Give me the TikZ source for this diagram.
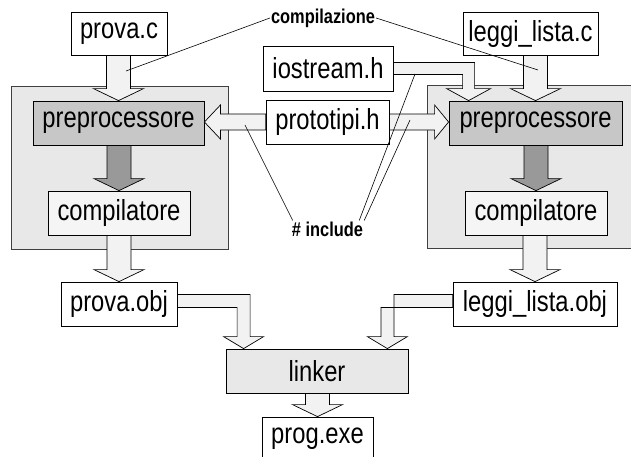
\documentclass[tikz,border=0pt]{standalone}
\usepackage{fontspec}
\setmainfont{Liberation Sans}[FakeStretch=0.82]
\usetikzlibrary{calc}
\definecolor{contgray}{gray}{0.91}
\definecolor{pregray}{gray}{0.78}
\definecolor{compgray}{gray}{0.96}
\definecolor{arrgray}{gray}{0.95}
\definecolor{darkarr}{gray}{0.6}

% fat arrow pointing down, from one box to the next one
\newcommand{\fatdown}[3][arrgray]{%
  \filldraw[fatarr,fill=#1] let \p1=(#2.south), \p2=(#3.north) in
    (\x2-12pt,\y1) -- (\x2-12pt,\y2+12pt) -- (\x2-25pt,\y2+12pt) -- (\x2,\y2)
    -- (\x2+25pt,\y2+12pt) -- (\x2+12pt,\y2+12pt) -- (\x2+12pt,\y1) -- cycle;}

\begin{document}
\begin{tikzpicture}[x=1pt,y=-1pt]
\tikzstyle{box}=[draw,line width=0.8pt,fill=white,inner sep=0pt,minimum height=44,font=\fontsize{29}{30}\selectfont];
\tikzstyle{cont}=[draw=black!75,line width=0.8pt,fill=contgray];
\tikzstyle{fatarr}=[draw,line width=0.7pt,line join=miter];
\tikzstyle{lbl}=[inner sep=1pt,font=\fontsize{20}{20}\bfseries\selectfont];
\tikzstyle{thin}=[line width=0.6pt];

\useasboundingbox (0,0) rectangle (631,456);

% the two compilation units
\filldraw[cont] (11,86) rectangle (228,249);
\filldraw[cont] (427,85) rectangle (650,248);

\node[box] (provac) at (119,33.5) [minimum width=96,minimum height=43] {prova.c};
\node[box] (leggic) at (530.5,33.5) [minimum width=135,minimum height=43] {leggi\_lista.c};
\node[box] (iostream) at (328,68.5) [minimum width=130,minimum height=45] {iostream.h};
\node[box] (prototipi) at (327.5,122) [minimum width=123] {prototipi.h};

\node[box,fill=pregray] (preL) at (118.5,123) [minimum width=171] {preprocessore};
\node[box,fill=pregray] (preR) at (535.5,123) [minimum width=173] {preprocessore};
\node[box,fill=compgray] (compL) at (119,213) [minimum width=142] {compilatore};
\node[box,fill=compgray] (compR) at (536,213) [minimum width=142] {compilatore};

\node[box] (provaobj) at (119,304) [minimum width=116] {prova.obj};
\node[box] (leggiobj) at (535,304) [minimum width=164] {leggi\_lista.obj};
\node[box,fill=contgray] (linker) at (317,371) [minimum width=182] {linker};
\node[box] (progexe) at (317.5,439) [minimum width=111] {prog.exe};

\node[lbl] (compil) at (323,18) {compilazione};
\node[lbl] (incl) at (327.5,229) {\# include};

\foreach \a/\b/\c in {provac/preL/arrgray,preL/compL/darkarr,compL/provaobj/arrgray,
  leggic/preR/arrgray,preR/compR/darkarr,compR/leggiobj/arrgray,linker/progexe/arrgray}
  \fatdown[\c]{\a}{\b};

% include arrows
\filldraw[fatarr,fill=arrgray] let \p1=(prototipi.west), \p2=(preL.east) in
  (\x1,\y1+8pt) -- (\x2+16pt,\y1+8pt) -- (\x2+16pt,\y1+17pt) -- (\x2,\y1)
  -- (\x2+16pt,\y1-17pt) -- (\x2+16pt,\y1-8pt) -- (\x1,\y1-8pt) -- cycle;
\filldraw[fatarr,fill=arrgray] let \p1=(prototipi.east), \p2=(preR.west) in
  (\x1,\y1+8pt) -- (\x2-14pt,\y1+8pt) -- (\x2-14pt,\y1+17pt) -- (\x2,\y1)
  -- (\x2-14pt,\y1-17pt) -- (\x2-14pt,\y1-8pt) -- (\x1,\y1-8pt) -- cycle;
\filldraw[fatarr,fill=arrgray] let \p1=(iostream.east), \p2=(preR.north west) in
  (\x1,\y1+6pt) -- (\x2+26pt,\y1+6pt) -- (\x2+26pt,\y2+12pt) -- (\x2+42pt,\y2+12pt)
  -- (\x2+20pt,\y2) -- (\x2-2pt,\y2+12pt) -- (\x2+14pt,\y2+12pt) -- (\x2+14pt,\y1-6pt)
  -- (\x1,\y1-6pt) -- cycle;

% object files into the linker
\filldraw[fatarr,fill=arrgray] let \p1=(provaobj.east), \p2=(linker.north west) in
  (\x1,\y1+9.5pt) -- (\x2+24.5pt,\y1+9.5pt) -- (\x2+24.5pt,\y2+12pt) -- (\x2+38pt,\y2+12pt)
  -- (\x2+18pt,\y2) -- (\x2-2pt,\y2+12pt) -- (\x2+11.5pt,\y2+12pt) -- (\x2+11.5pt,\y1-3.5pt)
  -- (\x1,\y1-3.5pt) -- cycle;
\filldraw[fatarr,fill=arrgray] let \p1=(leggiobj.west), \p2=(linker.north east) in
  (\x1,\y1+9.5pt) -- (\x2-14.5pt,\y1+9.5pt) -- (\x2-14.5pt,\y2+12pt) -- (\x2-1pt,\y2+12pt)
  -- (\x2-21pt,\y2) -- (\x2-41pt,\y2+12pt) -- (\x2-27.5pt,\y2+12pt) -- (\x2-27.5pt,\y1-3.5pt)
  -- (\x1,\y1-3.5pt) -- cycle;

% label pointers
\coordinate (p1) at (126,71);
\coordinate (p2) at (538,70);
\coordinate (p3) at (245,125);
\coordinate (p4) at (415,74);
\coordinate (p5) at (410,120);
\draw[thin] (compil.west) -- (p1);
\draw[thin] (compil.east) -- (p2);
\draw[thin] ([xshift=2pt]incl.north west) -- (p3);
\draw[thin] ([xshift=-5pt]incl.north east) -- (p4);
\draw[thin] (incl.north east) -- (p5);

\end{tikzpicture}
\end{document}
